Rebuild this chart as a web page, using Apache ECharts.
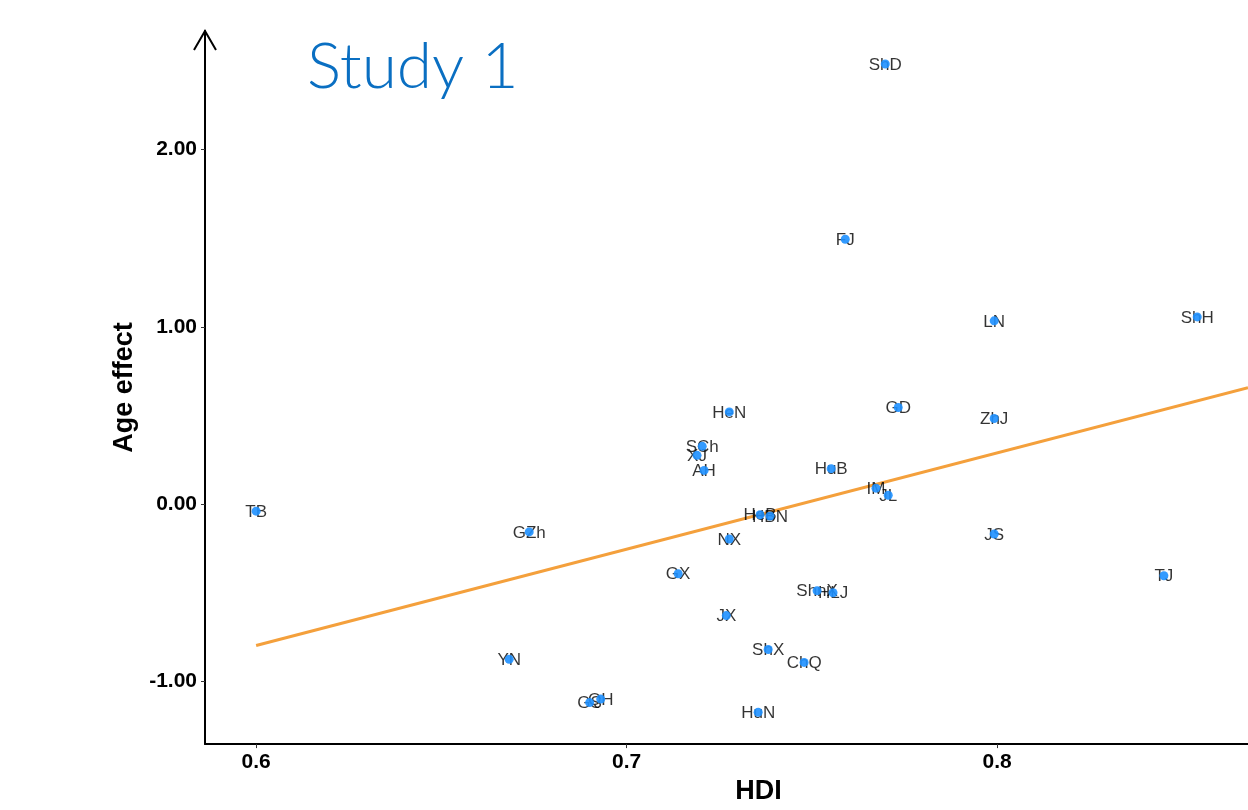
<!DOCTYPE html>
<html>
<head>
<meta charset="utf-8">
<script src="https://cdn.jsdelivr.net/npm/echarts@6/dist/echarts.min.js"></script>
<style>html,body{margin:0;padding:0;background:#fff;overflow:hidden}#c{width:1248px;height:810px}</style>
</head>
<body>
<div id="c"></div>
<script>
// Province abbreviations
var provinces = ['ShD','FJ','LN','ShH','HeN','GD','ZhJ','SCh','XJ','AH','HuB','IM','JL','TB','HeB','HBN','GZh','NX','JS','GX','TJ','ShnX','HLJ','JX','ShX','ChQ','YN','GS','QH','HuN'];
// HDI (x)
var hdi = [0.7698,0.7590,0.7992,0.8540,0.7277,0.7733,0.7992,0.7204,0.7190,0.7209,0.7552,0.7673,0.7706,0.6000,0.7360,0.7387,0.6737,0.7277,0.7992,0.7139,0.8450,0.7514,0.7557,0.7269,0.7382,0.7479,0.6683,0.6900,0.6930,0.7355];
// Age effect (y)
var ageEffect = [2.483,1.494,1.034,1.056,0.520,0.545,0.483,0.326,0.275,0.190,0.200,0.090,0.050,-0.040,-0.060,-0.067,-0.157,-0.197,-0.169,-0.393,-0.404,-0.489,-0.500,-0.629,-0.820,-0.893,-0.876,-1.120,-1.100,-1.174];
// Fitted regression line endpoints
var fitX = [0.6000, 0.8677];
var fitY = [-0.798, 0.657];
var xTicks = [0.6, 0.7, 0.8];
var yTicks = [-1, 0, 1, 2];

var pts = provinces.map(function(p,i){ return {name:p, value:[hdi[i], ageEffect[i]]}; });
var fit = fitX.map(function(x,i){ return [x, fitY[i]]; });

var chart = echarts.init(document.getElementById('c'), null, {renderer:'canvas', width:1248, height:810});
chart.setOption({
  animation:false,
  backgroundColor:'#ffffff',
  title:{text:'Study 1', left:302, top:30, textStyle:{fontFamily:'Lato', fontWeight:300, fontSize:64, color:'#0A6FC2'}},
  grid:{left:205, right:0, top:31, bottom:59, containLabel:false},
  xAxis:{type:'value', min:0.5862, max:0.8677, name:'HDI', nameLocation:'middle', nameGap:28,
    nameTextStyle:{fontFamily:'Liberation Sans', fontWeight:'bold', fontSize:27, color:'#000', verticalAlign:'top', padding:[0,0,0,64]},
    axisLine:{show:true, onZero:false, lineStyle:{color:'#000', width:2}},
    axisTick:{show:true, length:4, lineStyle:{color:'#333'}, customValues:xTicks},
    axisLabel:{customValues:xTicks, margin:8, fontFamily:'Liberation Sans', fontWeight:'bold', fontSize:21, color:'#000', formatter:function(v){return v.toFixed(1);}},
    splitLine:{show:false}},
  yAxis:{type:'value', min:-1.354, max:2.669, name:'Age effect', nameLocation:'middle', nameGap:60,
    nameTextStyle:{fontFamily:'Liberation Sans', fontWeight:'bold', fontSize:27, color:'#000'},
    axisLine:{show:true, onZero:false, lineStyle:{color:'#000', width:2}},
    axisTick:{show:true, length:4, lineStyle:{color:'#333'}, customValues:yTicks},
    axisLabel:{customValues:yTicks, margin:8, fontFamily:'Liberation Sans', fontWeight:'bold', fontSize:21, color:'#000', formatter:function(v){return v.toFixed(2);}},
    splitLine:{show:false}},
  graphic:[{type:'polyline', z:100, shape:{points:[[194,50],[205,31],[216,50]]}, style:{stroke:'#000', lineWidth:2, fill:null}}],
  series:[
    {type:'line', data:fit, symbol:'none', lineStyle:{color:'#F4A03C', width:3}, z:1, silent:true},
    {type:'scatter', data:pts, symbolSize:0, z:2,
      label:{show:true, position:'inside', offset:[0,1], formatter:'{b}', fontFamily:'Liberation Sans', fontSize:17, color:'#000'}},
    {type:'scatter', data:pts, symbolSize:9, z:3, itemStyle:{color:'#1E90FF', opacity:0.9}}
  ]
});
</script>
</body>
</html>
